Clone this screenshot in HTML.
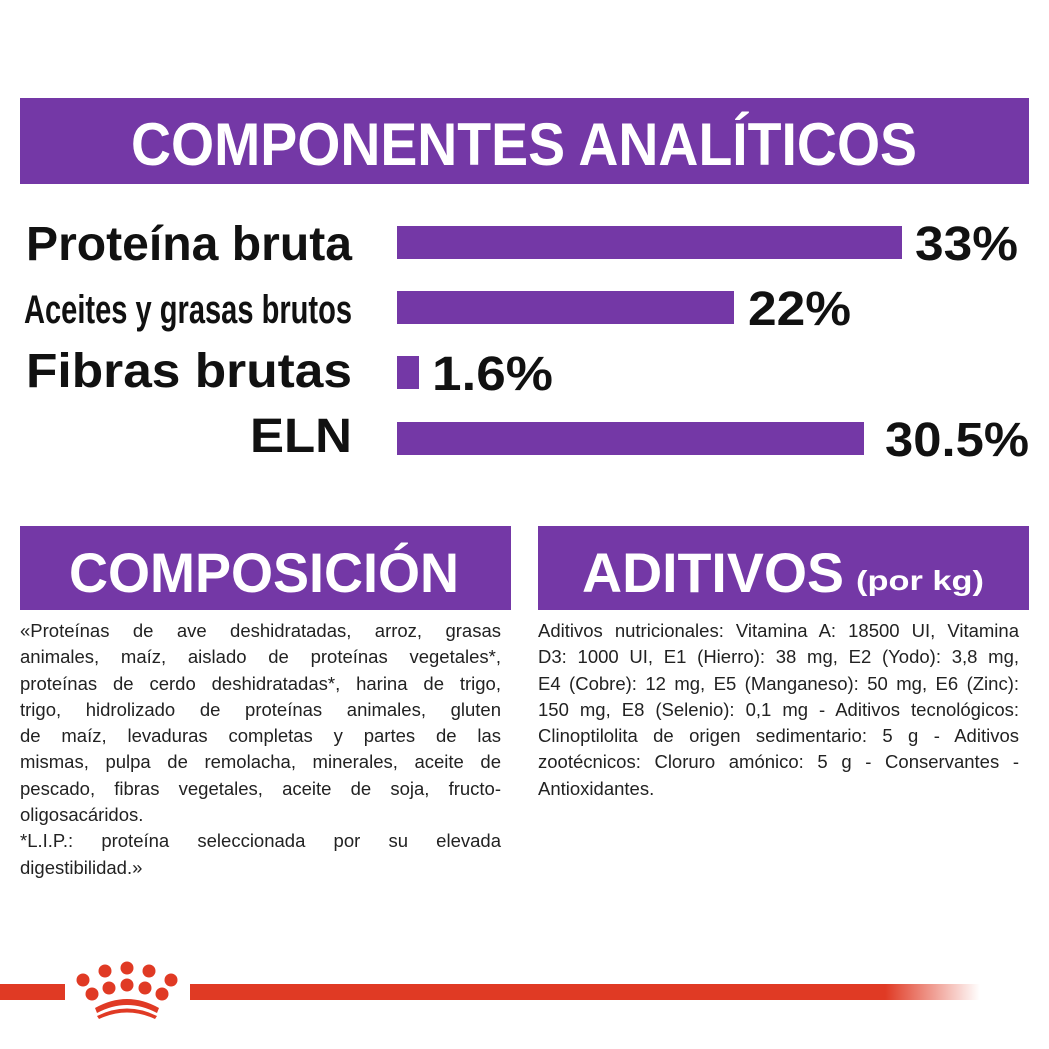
<!DOCTYPE html>
<html><head><meta charset="utf-8"><style>
body{margin:0;width:1049px;height:1049px;background:#fff;overflow:hidden;position:relative;font-family:"Liberation Sans",sans-serif}
.t{position:absolute;font-size:18.5px;color:#222;line-height:26.3px}
.t div{text-align:justify;text-align-last:justify;white-space:nowrap}
.t div.l{text-align-last:left}
</style></head><body>
<svg width="1049" height="1049" style="position:absolute;left:0;top:0">
<defs><linearGradient id="g" x1="0" x2="1"><stop offset="0.88" stop-color="#e03a24"/><stop offset="1" stop-color="#e03a24" stop-opacity="0"/></linearGradient></defs>
<rect x="20" y="98" width="1009" height="86" fill="#7438a6"/>
<text x="524" y="165" text-anchor="middle" font-family="Liberation Sans" font-weight="bold" font-size="60" fill="#fff" textLength="786" lengthAdjust="spacingAndGlyphs">COMPONENTES ANALÍTICOS</text>
<g font-family="Liberation Sans Narrow, Liberation Sans" font-weight="bold" fill="#111">
<text x="352" y="260" text-anchor="end" font-size="48" textLength="326" lengthAdjust="spacingAndGlyphs">Proteína bruta</text>
<text x="352" y="323" text-anchor="end" font-size="40" textLength="328" lengthAdjust="spacingAndGlyphs">Aceites y grasas brutos</text>
<text x="352" y="387" text-anchor="end" font-size="48" textLength="326" lengthAdjust="spacingAndGlyphs">Fibras brutas</text>
<text x="352" y="452" text-anchor="end" font-size="48" textLength="102" lengthAdjust="spacingAndGlyphs">ELN</text>
<text x="915" y="260" font-size="48" textLength="103" lengthAdjust="spacingAndGlyphs">33%</text>
<text x="748" y="325" font-size="48" textLength="103" lengthAdjust="spacingAndGlyphs">22%</text>
<text x="432" y="390" font-size="48" textLength="121" lengthAdjust="spacingAndGlyphs">1.6%</text>
<text x="885" y="456" font-size="48" textLength="144" lengthAdjust="spacingAndGlyphs">30.5%</text>
</g>
<g fill="#7438a6">
<rect x="397" y="226" width="505" height="33"/>
<rect x="397" y="291" width="337" height="33"/>
<rect x="397" y="356" width="22" height="33"/>
<rect x="397" y="422" width="467" height="33"/>
<rect x="20" y="526" width="491" height="84"/>
<rect x="538" y="526" width="491" height="84"/>
</g>
<text x="264" y="592" text-anchor="middle" font-family="Liberation Sans" font-weight="bold" font-size="56" fill="#fff" textLength="390" lengthAdjust="spacingAndGlyphs">COMPOSICIÓN</text>
<text x="582" y="592" font-family="Liberation Sans" font-weight="bold" font-size="56" fill="#fff" textLength="262" lengthAdjust="spacingAndGlyphs">ADITIVOS</text>
<text x="856" y="590" font-family="Liberation Sans" font-weight="bold" font-size="28" fill="#fff" textLength="128" lengthAdjust="spacingAndGlyphs">(por kg)</text>
<rect x="0" y="984" width="65" height="16" fill="#e03a24"/>
<rect x="190" y="984" width="790" height="16" fill="url(#g)"/>
<g fill="#e03a24">
<circle cx="83" cy="980" r="6.5"/><circle cx="105" cy="971" r="6.5"/><circle cx="127" cy="968" r="6.5"/><circle cx="149" cy="971" r="6.5"/><circle cx="171" cy="980" r="6.5"/>
<circle cx="92" cy="994" r="6.5"/><circle cx="109" cy="988" r="6.5"/><circle cx="127" cy="985" r="6.5"/><circle cx="145" cy="988" r="6.5"/><circle cx="162" cy="994" r="6.5"/>
<path d="M95 1008 Q127 990 159 1008 L157 1013 Q127 997 97 1013Z"/>
<path d="M97 1016 Q127 1001 157 1016 L155 1019 Q127 1006 99 1019Z"/>
</g>
</svg>
<div class="t" style="left:20px;top:618px;width:481px">
<div>«Proteínas de ave deshidratadas, arroz, grasas</div>
<div>animales, maíz, aislado de proteínas vegetales*,</div>
<div>proteínas de cerdo deshidratadas*, harina de trigo,</div>
<div>trigo, hidrolizado de proteínas animales, gluten</div>
<div>de maíz, levaduras completas y partes de las</div>
<div>mismas, pulpa de remolacha, minerales, aceite de</div>
<div>pescado, fibras vegetales, aceite de soja, fructo-</div>
<div class="l">oligosacáridos.</div>
<div>*L.I.P.: proteína seleccionada por su elevada</div>
<div class="l">digestibilidad.»</div>
</div>
<div class="t" style="left:538px;top:618px;width:481px">
<div>Aditivos nutricionales: Vitamina A: 18500 UI, Vitamina</div>
<div>D3: 1000 UI, E1 (Hierro): 38 mg, E2 (Yodo): 3,8 mg,</div>
<div>E4 (Cobre): 12 mg, E5 (Manganeso): 50 mg, E6 (Zinc):</div>
<div>150 mg, E8 (Selenio): 0,1 mg - Aditivos tecnológicos:</div>
<div>Clinoptilolita de origen sedimentario: 5 g - Aditivos</div>
<div>zootécnicos: Cloruro amónico: 5 g - Conservantes -</div>
<div class="l">Antioxidantes.</div>
</div>
</body></html>
